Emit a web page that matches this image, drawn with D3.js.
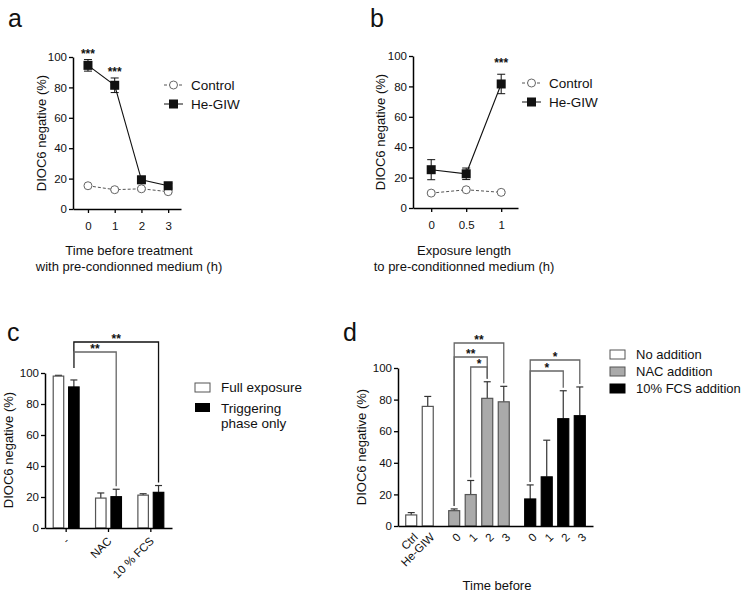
<!DOCTYPE html>
<html><head><meta charset="utf-8">
<script src="https://cdn.jsdelivr.net/npm/d3@7"></script>
<style>
body{margin:0;background:#fff;}
svg{display:block;font-family:"Liberation Sans",Arial,Helvetica,sans-serif;}
</style></head>
<body><svg id="chart" width="743" height="593"></svg>
<script>
// ---------- data ----------
// panel a
const aTimes = [0, 1, 2, 3];
const aControl = [15.3, 12.7, 13.3, 11.4];
const aControlErr = [0.8, 0.6, 0.8, 0.7];
const aHeGIW = [94.5, 81.4, 19.2, 15.3];
const aHeGIWErr = [3.8, 4.8, 2.3, 1.5];
const aStars = ["***", "***", "", ""];
// panel b
const bTimes = [0, 0.5, 1];
const bControl = [9.8, 12.0, 10.3];
const bControlErr = [0.8, 0.6, 0.6];
const bHeGIW = [25.2, 22.5, 81.6];
const bHeGIWErr = [6.6, 3.8, 6.4];
const bStars = ["", "", "***"];
// panel c
const cCategories = ["-", "NAC", "10 % FCS"];
const cFull = [98, 19.3, 21.2];
const cFullErr = [0.5, 3.3, 0.9];
const cTrig = [91, 20.2, 23];
const cTrigErr = [4.5, 4.8, 4.4];
// panel d
const dGroups = ["No addition", "NAC addition", "10% FCS addition"];
const dLabels = [["Ctrl", "He-GIW"], ["0", "1", "2", "3"], ["0", "1", "2", "3"]];
const dValues = [[7, 75.7], [9.7, 19.9, 80.8, 78.6], [17.1, 31.1, 67.9, 69.8]];
const dErr = [[1.5, 6.3], [1.1, 8.9, 10.5, 9.8], [8.9, 23.2, 17.7, 18.2]];
const yTicks = [0, 20, 40, 60, 80, 100];

// ---------- drawing ----------
const svg = d3.select("#chart");
const FONT_TICK = 11.5, FONT_LAB = 13, FONT_LEG = 13;

function yAxis(g, y, x0) {
  const ax = g.append("g").attr("transform", `translate(${x0},0)`)
    .call(d3.axisLeft(y).tickValues(yTicks).tickSize(4).tickPadding(2).tickSizeOuter(0));
  ax.select(".domain").attr("stroke", "#000").attr("stroke-width", 1.5);
  ax.selectAll(".tick line").attr("stroke", "#000").attr("stroke-width", 1.3);
  ax.selectAll("text").attr("font-size", FONT_TICK).attr("fill", "#111").attr("font-family", "Liberation Sans, Arial");
  return ax;
}
function yTitle(g, x, yc) {
  g.append("text").attr("transform", `translate(${x},${yc}) rotate(-90)`)
    .attr("text-anchor", "middle").attr("font-size", FONT_LAB).attr("fill", "#111")
    .text("DIOC6 negative (%)");
}
function panelLetter(x, y, t) {
  svg.append("text").attr("x", x).attr("y", y).attr("font-size", 25).attr("fill", "#111").text(t);
}

// ----- line panels (a, b) -----
function linePanel(opt) {
  const g = svg.append("g");
  const x = d3.scaleLinear().domain(opt.xDomain).range(opt.xRange);
  const y = d3.scaleLinear().domain([0, 100]).range(opt.yRange);
  const xa = g.append("g").attr("transform", `translate(0,${opt.yRange[0]})`)
    .call(d3.axisBottom(x).tickValues(opt.times).tickFormat(d => String(d)).tickSize(4).tickPadding(9).tickSizeOuter(0));
  xa.select(".domain").attr("stroke", "#000").attr("stroke-width", 1.5);
  xa.selectAll(".tick line").attr("stroke", "#000").attr("stroke-width", 1.3);
  xa.selectAll("text").attr("font-size", FONT_TICK).attr("fill", "#111");
  yAxis(g, y, opt.xRange[0]);
  yTitle(g, opt.yTitleX, (opt.yRange[0] + opt.yRange[1]) / 2);
  opt.xTitle.forEach((t, i) => {
    g.append("text").attr("x", opt.xTitleX).attr("y", opt.xTitleY + i * 15.5)
      .attr("text-anchor", "middle").attr("font-size", FONT_LAB).attr("fill", "#111").text(t);
  });
  const ctrl = opt.times.map((t, i) => ({t, v: opt.control[i], e: opt.controlErr[i]}));
  const he = opt.times.map((t, i) => ({t, v: opt.he[i], e: opt.heErr[i], s: opt.stars[i]}));
  const line = d3.line().x(d => x(d.t)).y(d => y(d.v));
  g.append("path").datum(ctrl).attr("d", line).attr("fill", "none")
    .attr("stroke", "#555").attr("stroke-width", 1).attr("stroke-dasharray", "3,2");
  g.append("path").datum(he).attr("d", line).attr("fill", "none")
    .attr("stroke", "#111").attr("stroke-width", 1.1);
  [ctrl, he].forEach(ser => {
    const eb = g.append("g").selectAll("g").data(ser).join("g");
    eb.append("line").attr("x1", d => x(d.t)).attr("x2", d => x(d.t))
      .attr("y1", d => y(d.v - d.e)).attr("y2", d => y(d.v + d.e)).attr("stroke", "#111").attr("stroke-width", 1);
    eb.append("line").attr("x1", d => x(d.t) - 4).attr("x2", d => x(d.t) + 4)
      .attr("y1", d => y(d.v + d.e)).attr("y2", d => y(d.v + d.e)).attr("stroke", "#111").attr("stroke-width", 1);
    eb.append("line").attr("x1", d => x(d.t) - 4).attr("x2", d => x(d.t) + 4)
      .attr("y1", d => y(d.v - d.e)).attr("y2", d => y(d.v - d.e)).attr("stroke", "#111").attr("stroke-width", 1);
  });
  g.append("g").selectAll("circle").data(ctrl).join("circle")
    .attr("cx", d => x(d.t)).attr("cy", d => y(d.v)).attr("r", 4)
    .attr("fill", "#fff").attr("stroke", "#666").attr("stroke-width", 1);
  g.append("g").selectAll("rect").data(he).join("rect")
    .attr("x", d => x(d.t) - 4.5).attr("y", d => y(d.v) - 4.5).attr("width", 9).attr("height", 9)
    .attr("fill", "#111");
  g.append("g").selectAll("text").data(he.filter(d => d.s)).join("text")
    .attr("x", d => x(d.t)).attr("y", d => y(d.v + d.e) - opt.starOff)
    .attr("text-anchor", "middle").attr("font-size", 12).attr("font-weight", "bold").attr("fill", "#111")
    .text(d => d.s);
  const lg = g.append("g").attr("transform", `translate(${opt.legX},${opt.legY})`);
  lg.append("line").attr("x1", 0).attr("x2", 19).attr("y1", 0).attr("y2", 0)
    .attr("stroke", "#555").attr("stroke-dasharray", "3,2");
  lg.append("circle").attr("cx", 9.5).attr("cy", 0).attr("r", 4).attr("fill", "#fff").attr("stroke", "#666");
  lg.append("text").attr("x", 27).attr("y", 0).attr("dy", "0.35em").attr("font-size", FONT_LEG + 0.5).attr("fill", "#111").text("Control");
  lg.append("line").attr("x1", 0).attr("x2", 19).attr("y1", 19).attr("y2", 19).attr("stroke", "#111");
  lg.append("rect").attr("x", 5).attr("y", 14.5).attr("width", 9).attr("height", 9).attr("fill", "#111");
  lg.append("text").attr("x", 27).attr("y", 19).attr("dy", "0.35em").attr("font-size", FONT_LEG + 0.5).attr("fill", "#111").text("He-GIW");
}

panelLetter(8, 27, "a");
linePanel({
  times: aTimes, control: aControl, controlErr: aControlErr, he: aHeGIW, heErr: aHeGIWErr, stars: aStars,
  xDomain: [-0.56, 3.48], xRange: [73, 181], yRange: [209, 57],
  yTitleX: 46, xTitleX: 129, xTitleY: 255,
  xTitle: ["Time before treatment", "with pre-condionned medium (h)"],
  starOff: 2, legX: 164, legY: 85
});
panelLetter(370, 27, "b");
linePanel({
  times: bTimes, control: bControl, controlErr: bControlErr, he: bHeGIW, heErr: bHeGIWErr, stars: bStars,
  xDomain: [-0.26, 1.24], xRange: [413, 518], yRange: [208, 56],
  yTitleX: 385, xTitleX: 464, xTitleY: 255,
  xTitle: ["Exposure length", "to pre-conditionned medium (h)"],
  starOff: 7, legX: 522, legY: 83
});

// ----- bar helpers -----
function errBar(g, xc, yTop, yErr, cap) {
  g.append("line").attr("x1", xc).attr("x2", xc).attr("y1", yTop).attr("y2", yErr).attr("stroke", "#333").attr("stroke-width", 1.2);
  g.append("line").attr("x1", xc - cap).attr("x2", xc + cap).attr("y1", yErr).attr("y2", yErr).attr("stroke", "#333").attr("stroke-width", 1.2);
}
function bracket(g, x1, x2, yTop, y1b, y2b, stars, color) {
  g.append("path").attr("d", `M${x1},${y1b}V${yTop}H${x2}V${y2b}`)
    .attr("fill", "none").attr("stroke", color).attr("stroke-width", 1.3);
  g.append("text").attr("x", (x1 + x2) / 2).attr("y", yTop + 1).attr("text-anchor", "middle")
    .attr("font-size", 12).attr("font-weight", "bold").attr("fill", "#111").text(stars);
}

// ----- panel c -----
panelLetter(7, 341, "c");
(function () {
  const g = svg.append("g");
  const x = d3.scaleBand().domain(cCategories).range([45, 172]);
  const y = d3.scaleLinear().domain([0, 100]).range([528, 373]);
  const bw = 10.5, off = 7.7;
  const series = [
    {vals: cFull, err: cFullErr, fill: "#fff", stroke: "#555", dx: -off},
    {vals: cTrig, err: cTrigErr, fill: "#000", stroke: "#000", dx: off}
  ];
  series.forEach(s => {
    cCategories.forEach((c, i) => {
      const xc = x(c) + x.bandwidth() / 2 + s.dx;
      errBar(g, xc, y(s.vals[i]), y(s.vals[i] + s.err[i]), 3.5);
      g.append("rect").attr("x", xc - bw / 2).attr("y", y(s.vals[i])).attr("width", bw)
        .attr("height", y(0) - y(s.vals[i])).attr("fill", s.fill).attr("stroke", s.stroke).attr("stroke-width", 1.2);
    });
  });
  const xa = g.append("g").attr("transform", `translate(0,528)`)
    .call(d3.axisBottom(x).tickSize(4).tickSizeOuter(0).tickPadding(3));
  xa.select(".domain").attr("stroke", "#000").attr("stroke-width", 1.5);
  xa.selectAll(".tick line").attr("stroke", "#000").attr("stroke-width", 1.3);
  xa.selectAll("text").attr("font-size", FONT_TICK).attr("fill", "#111")
    .attr("text-anchor", "end").attr("x", 0).attr("y", 0).attr("dy", "0.35em")
    .attr("transform", "translate(1,11) rotate(-45)");
  yAxis(g, y, 45);
  yTitle(g, 13, 450);
  const xb = (c, dx) => x(c) + x.bandwidth() / 2 + dx;
  bracket(g, xb("-", off), xb("10 % FCS", off), 342, 368, y(cTrig[2] + cTrigErr[2]) - 3, "**", "#111");
  bracket(g, xb("-", off), xb("NAC", off), 352, 368, y(cTrig[1] + cTrigErr[1]) - 3, "**", "#666");
  const lg = g.append("g").attr("transform", "translate(195,383)");
  lg.append("rect").attr("x", 0).attr("y", 0).attr("width", 15).attr("height", 9).attr("fill", "#fff").attr("stroke", "#555");
  lg.append("text").attr("x", 26).attr("y", 4.5).attr("dy", "0.35em").attr("font-size", FONT_LEG + 0.5).attr("fill", "#111").text("Full exposure");
  lg.append("rect").attr("x", 0).attr("y", 20).attr("width", 15).attr("height", 9).attr("fill", "#000");
  lg.append("text").attr("x", 26).attr("y", 25).attr("dy", "0.35em").attr("font-size", FONT_LEG + 0.5).attr("fill", "#111").text("Triggering");
  lg.append("text").attr("x", 26).attr("y", 40).attr("dy", "0.35em").attr("font-size", FONT_LEG + 0.5).attr("fill", "#111").text("phase only");
})();

// ----- panel d -----
panelLetter(343, 341, "d");
(function () {
  const g = svg.append("g");
  const y = d3.scaleLinear().domain([0, 100]).range([526, 368]);
  const gapExtra = 0.6;
  const bars = [];
  let slot = 0;
  dLabels.forEach((labs, gi) => {
    labs.forEach((lab, j) => {
      bars.push({gi, j, lab, v: dValues[gi][j], e: dErr[gi][j], slot});
      slot += 1;
    });
    slot += gapExtra;
  });
  const x = d3.scaleLinear().domain([-0.8, 11.0]).range([398, 593]);
  const fills = ["#fff", "#aaa", "#000"], strokes = ["#555", "#555", "#000"];
  const bw = 11;
  bars.forEach(b => {
    const xc = x(b.slot);
    errBar(g, xc, y(b.v), y(b.v + b.e), 3.5);
    g.append("rect").attr("x", xc - bw / 2).attr("y", y(b.v)).attr("width", bw).attr("height", y(0) - y(b.v))
      .attr("fill", fills[b.gi]).attr("stroke", strokes[b.gi]).attr("stroke-width", 1.2);
  });
  const xa = g.append("g").attr("transform", "translate(0,526)")
    .call(d3.axisBottom(x).tickValues(bars.map(b => b.slot)).tickFormat((d, i) => bars[i].lab)
      .tickSize(0).tickSizeOuter(0).tickPadding(6));
  xa.select(".domain").attr("stroke", "#000").attr("stroke-width", 1.5);
  xa.selectAll("text").attr("font-size", FONT_TICK).attr("fill", "#111")
    .attr("text-anchor", "end").attr("x", 0).attr("y", 0).attr("dy", "0.35em")
    .attr("transform", "translate(4,9) rotate(-45)");
  yAxis(g, y, 398);
  yTitle(g, 366, 447);
  g.append("text").attr("x", 497).attr("y", 590).attr("text-anchor", "middle")
    .attr("font-size", FONT_LAB).attr("fill", "#111").text("Time before");
  const bx = (gi, j) => x(bars.find(b => b.gi === gi && b.j === j).slot);
  const errTop = (gi, j) => y(dValues[gi][j] + dErr[gi][j]) - 3;
  bracket(g, bx(1, 0), bx(1, 3), 343, errTop(1, 0), errTop(1, 3), "**", "#666");
  bracket(g, bx(1, 0), bx(1, 2), 357, errTop(1, 0), errTop(1, 2), "**", "#666");
  bracket(g, bx(1, 1), bx(1, 2), 367, errTop(1, 1), errTop(1, 2), "*", "#666");
  bracket(g, bx(2, 0), bx(2, 3), 360, errTop(2, 0), errTop(2, 3), "*", "#666");
  bracket(g, bx(2, 0), bx(2, 2), 371, errTop(2, 0), errTop(2, 2), "*", "#666");
  const lg = g.append("g").attr("transform", "translate(610,350)");
  dGroups.forEach((t, i) => {
    lg.append("rect").attr("x", 0).attr("y", i * 17).attr("width", 15).attr("height", 9)
      .attr("fill", fills[i]).attr("stroke", strokes[i]);
    lg.append("text").attr("x", 26).attr("y", i * 17 + 4.5).attr("dy", "0.35em").attr("font-size", FONT_LEG)
      .attr("fill", "#111").text(t);
  });
})();
</script></body></html>
